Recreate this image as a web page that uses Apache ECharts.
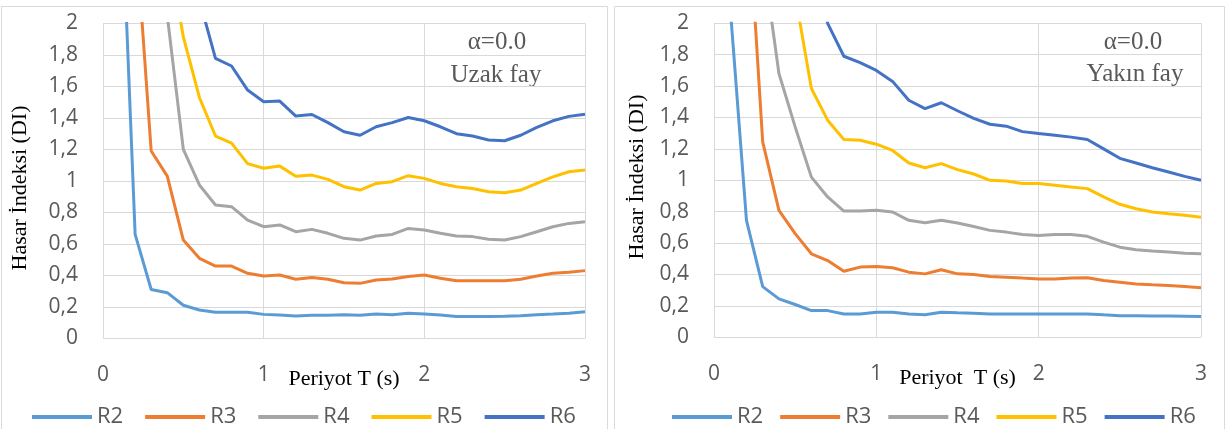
<!DOCTYPE html>
<html>
<head>
<meta charset="utf-8">
<script src="https://cdn.jsdelivr.net/npm/echarts@6/dist/echarts.min.js"></script>
<style>
html,body{margin:0;padding:0;background:#fff;}
#chart{width:1230px;height:429px;}
</style>
</head>
<body>
<div id="chart"></div>
<script>
// Period values (s)
const periods = [0.1,0.2,0.3,0.4,0.5,0.6,0.7,0.8,0.9,1.0,1.1,1.2,1.3,1.4,1.5,1.6,1.7,1.8,1.9,2.0,2.1,2.2,2.3,2.4,2.5,2.6,2.7,2.8,2.9,3.0];
const seriesNames = ['R2','R3','R4','R5','R6'];
const xTicks = [0,1,2,3];

// Uzak fay (far fault), alpha = 0.0
const farR2 = [3.2,0.66,0.31,0.29,0.21,0.18,0.165,0.165,0.165,0.152,0.148,0.142,0.146,0.146,0.15,0.146,0.154,0.15,0.159,0.154,0.148,0.138,0.138,0.138,0.14,0.144,0.15,0.154,0.159,0.169];
const farR3 = [5.5,2.63,1.19,1.03,0.624,0.508,0.459,0.459,0.413,0.396,0.402,0.375,0.387,0.375,0.353,0.349,0.37,0.377,0.392,0.402,0.381,0.366,0.366,0.366,0.366,0.375,0.396,0.413,0.419,0.43];
const farR4 = [8.0,4.6,3.2,2.05,1.2,0.974,0.847,0.836,0.751,0.709,0.72,0.677,0.692,0.667,0.635,0.624,0.65,0.66,0.698,0.688,0.667,0.65,0.646,0.629,0.624,0.646,0.677,0.709,0.73,0.741];
const farR5 = [12.0,7.0,4.0,2.5,1.915,1.53,1.285,1.24,1.11,1.08,1.094,1.03,1.037,1.01,0.963,0.942,0.984,0.995,1.033,1.016,0.984,0.963,0.952,0.931,0.925,0.942,0.984,1.026,1.058,1.069];
const farR6 = [15.0,9.0,5.0,3.3,2.6,2.15,1.778,1.73,1.577,1.503,1.507,1.412,1.422,1.37,1.312,1.29,1.344,1.37,1.403,1.382,1.344,1.30,1.285,1.26,1.255,1.29,1.34,1.382,1.41,1.424];

// Yakın fay (near fault), alpha = 0.0
const nearR2 = [2.1,0.745,0.323,0.245,0.209,0.17,0.17,0.149,0.149,0.16,0.16,0.149,0.143,0.16,0.156,0.153,0.148,0.149,0.149,0.149,0.149,0.149,0.149,0.143,0.138,0.138,0.136,0.136,0.134,0.132];
const nearR3 = [6.0,2.9,1.245,0.809,0.66,0.532,0.489,0.421,0.447,0.451,0.443,0.415,0.404,0.43,0.404,0.4,0.387,0.383,0.377,0.372,0.372,0.377,0.379,0.362,0.351,0.34,0.334,0.33,0.323,0.315];
const nearR4 = [8.0,4.5,2.43,1.68,1.34,1.02,0.894,0.804,0.804,0.809,0.798,0.745,0.73,0.745,0.728,0.706,0.681,0.67,0.655,0.649,0.655,0.655,0.643,0.606,0.574,0.557,0.549,0.543,0.536,0.532];
const nearR5 = [12.0,6.0,3.5,2.6,2.18,1.585,1.383,1.26,1.255,1.23,1.19,1.11,1.08,1.106,1.068,1.04,1.0,0.996,0.979,0.979,0.968,0.957,0.947,0.894,0.847,0.819,0.798,0.787,0.777,0.765];
const nearR6 = [20.0,12.0,7.0,4.5,3.2,2.5,2.0,1.79,1.75,1.70,1.63,1.51,1.457,1.494,1.443,1.394,1.357,1.345,1.31,1.298,1.287,1.275,1.26,1.20,1.14,1.11,1.08,1.053,1.025,1.0];

const colors = ['#5B9BD5','#ED7D31','#A5A5A5','#FFC000','#4472C4'];
const farSets = [farR2, farR3, farR4, farR5, farR6];
const nearSets = [nearR2, nearR3, nearR4, nearR5, nearR6];

const tickFont = 'Open Sans';
const serif = 'Liberation Serif';
const gridColor = '#d9d9d9';

function yFmt(v){ return String(Math.round(v*10)/10).replace('.', ','); }

function xAxisCfg(gridIndex, name){
  return {
    gridIndex, type:'value', min:xTicks[0], max:xTicks[xTicks.length-1], interval:1,
    name, nameLocation:'middle', nameGap:30, nameMoveOverlap:false,
    nameTextStyle:{fontFamily:serif, fontSize:22, color:'#000'},
    axisLine:{show:false}, axisTick:{show:false},
    axisLabel:{fontFamily:tickFont, fontSize:21, color:'#595959', margin:26},
    splitLine:{show:true, lineStyle:{color:gridColor, width:1}}
  };
}
function yAxisCfg(gridIndex){
  return {
    gridIndex, type:'value', min:0, max:2, interval:0.2,
    axisLine:{show:false}, axisTick:{show:false},
    axisLabel:{fontFamily:tickFont, fontSize:21, color:'#595959', margin:25, formatter:yFmt},
    splitLine:{show:true, lineStyle:{color:gridColor, width:1}}
  };
}

const series = [];
[farSets, nearSets].forEach((sets, gi) => {
  sets.forEach((arr, k) => {
    series.push({
      name: seriesNames[k], type:'line', xAxisIndex:gi, yAxisIndex:gi,
      data: periods.map((t,i)=>[t, arr[i]]),
      showSymbol:false, symbol:'none', clip:true, smooth:false,
      lineStyle:{color:colors[k], width:3}, itemStyle:{color:colors[k]},
      z: 2 + k
    });
  });
});

function legendCfg(left, gap){
  return {
    data: seriesNames.map(n => ({name:n, icon:'rect'})),
    left, top:401, itemWidth:60, itemHeight:4, itemGap:gap,
    textStyle:{fontFamily:tickFont, fontSize:22, color:'#595959'},
    selectedMode:false
  };
}

const chart = echarts.init(document.getElementById('chart'), null, {renderer:'canvas'});
chart.setOption({
  animation:false,
  backgroundColor:'#fff',
  color: colors,
  grid:[
    {left:103, top:23.5, width:482, height:314.8, containLabel:false},
    {left:714, top:23.3, width:487, height:314, containLabel:false}
  ],
  xAxis:[xAxisCfg(0,'Periyot T (s)'), xAxisCfg(1,'Periyot  T (s)')],
  yAxis:[yAxisCfg(0), yAxisCfg(1)],
  legend:[legendCfg(27, 22), legendCfg(667, 17)],
  series,
  graphic:[
    {type:'rect', shape:{x:1.5, y:6.5, width:606, height:440}, style:{fill:'none', stroke:'#d9d9d9', lineWidth:1}, z:-1},
    {type:'rect', shape:{x:614.5, y:6.5, width:610, height:440}, style:{fill:'none', stroke:'#d9d9d9', lineWidth:1}, z:-1},
    {type:'text', x:20, y:188, rotation:Math.PI/2, style:{text:'Hasar İndeksi (DI)', font:'22px "Liberation Serif"', fill:'#000', align:'center', verticalAlign:'middle'}},
    {type:'text', x:637, y:177, rotation:Math.PI/2, style:{text:'Hasar İndeksi (DI)', font:'22px "Liberation Serif"', fill:'#000', align:'center', verticalAlign:'middle'}},
    {type:'text', x:497, y:42, style:{text:'α=0.0', font:'25px "Liberation Serif"', fill:'#595959', align:'center', verticalAlign:'middle'}},
    {type:'text', x:496, y:75, style:{text:'Uzak fay', font:'25px "Liberation Serif"', fill:'#595959', align:'center', verticalAlign:'middle'}},
    {type:'text', x:1133, y:42, style:{text:'α=0.0', font:'25px "Liberation Serif"', fill:'#595959', align:'center', verticalAlign:'middle'}},
    {type:'text', x:1135, y:74, style:{text:'Yakın fay', font:'25px "Liberation Serif"', fill:'#595959', align:'center', verticalAlign:'middle'}}
  ]
});
</script>
</body>
</html>
